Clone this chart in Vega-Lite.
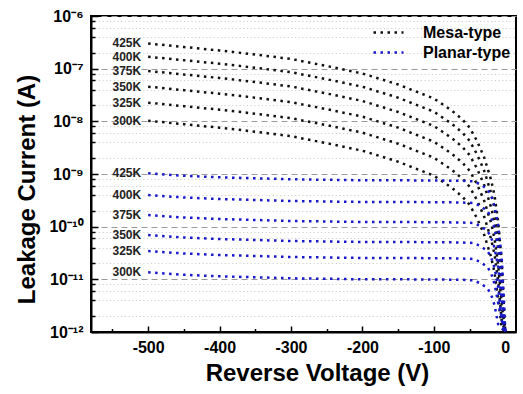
{
  "$schema": "https://vega.github.io/schema/vega-lite/v6.json",
  "width": 425,
  "height": 316,
  "autosize": "none",
  "padding": {"left": 91, "top": 16, "right": 7, "bottom": 62},
  "background": "white",
  "config": {
    "font": "Liberation Sans",
    "view": {"stroke": "black", "strokeWidth": 2},
    "axis": {"domainColor": "black", "domainWidth": 2, "tickColor": "black", "tickWidth": 1.5, "labelColor": "black", "titleColor": "black", "labelFont": "Liberation Sans", "titleFont": "Liberation Sans"}
  },
  "data": {"values": [
    {"type": "Mesa-type", "T": "425K", "V": -500, "I": 3.006e-7},
    {"type": "Mesa-type", "T": "425K", "V": -450, "I": 2.579e-7},
    {"type": "Mesa-type", "T": "425K", "V": -400, "I": 2.214e-7},
    {"type": "Mesa-type", "T": "425K", "V": -350, "I": 1.859e-7},
    {"type": "Mesa-type", "T": "425K", "V": -300, "I": 1.527e-7},
    {"type": "Mesa-type", "T": "425K", "V": -250, "I": 1.124e-7},
    {"type": "Mesa-type", "T": "425K", "V": -200, "I": 8.096e-8},
    {"type": "Mesa-type", "T": "425K", "V": -150, "I": 5.007e-8},
    {"type": "Mesa-type", "T": "425K", "V": -100, "I": 2.716e-8},
    {"type": "Mesa-type", "T": "425K", "V": -75, "I": 1.606e-8},
    {"type": "Mesa-type", "T": "425K", "V": -60, "I": 1.084e-8},
    {"type": "Mesa-type", "T": "425K", "V": -50, "I": 7.641e-9},
    {"type": "Mesa-type", "T": "425K", "V": -40, "I": 4.328e-9},
    {"type": "Mesa-type", "T": "425K", "V": -30, "I": 2.150e-9},
    {"type": "Mesa-type", "T": "425K", "V": -20, "I": 7.867e-10},
    {"type": "Mesa-type", "T": "425K", "V": -15, "I": 3.909e-10},
    {"type": "Mesa-type", "T": "425K", "V": -10, "I": 1.254e-10},
    {"type": "Mesa-type", "T": "425K", "V": -5, "I": 2.183e-11},
    {"type": "Mesa-type", "T": "425K", "V": -2, "I": 3.188e-12},
    {"type": "Mesa-type", "T": "425K", "V": 0, "I": 1e-12},
    {"type": "Mesa-type", "T": "400K", "V": -500, "I": 1.687e-7},
    {"type": "Mesa-type", "T": "400K", "V": -450, "I": 1.447e-7},
    {"type": "Mesa-type", "T": "400K", "V": -400, "I": 1.242e-7},
    {"type": "Mesa-type", "T": "400K", "V": -350, "I": 1.043e-7},
    {"type": "Mesa-type", "T": "400K", "V": -300, "I": 8.564e-8},
    {"type": "Mesa-type", "T": "400K", "V": -250, "I": 6.307e-8},
    {"type": "Mesa-type", "T": "400K", "V": -200, "I": 4.544e-8},
    {"type": "Mesa-type", "T": "400K", "V": -150, "I": 2.810e-8},
    {"type": "Mesa-type", "T": "400K", "V": -100, "I": 1.523e-8},
    {"type": "Mesa-type", "T": "400K", "V": -75, "I": 9.014e-9},
    {"type": "Mesa-type", "T": "400K", "V": -60, "I": 6.081e-9},
    {"type": "Mesa-type", "T": "400K", "V": -50, "I": 4.287e-9},
    {"type": "Mesa-type", "T": "400K", "V": -40, "I": 2.428e-9},
    {"type": "Mesa-type", "T": "400K", "V": -30, "I": 1.207e-9},
    {"type": "Mesa-type", "T": "400K", "V": -20, "I": 4.415e-10},
    {"type": "Mesa-type", "T": "400K", "V": -15, "I": 2.193e-10},
    {"type": "Mesa-type", "T": "400K", "V": -10, "I": 7.039e-11},
    {"type": "Mesa-type", "T": "400K", "V": -5, "I": 1.225e-11},
    {"type": "Mesa-type", "T": "400K", "V": -2, "I": 1.789e-12},
    {"type": "Mesa-type", "T": "400K", "V": 0, "I": 1e-12},
    {"type": "Mesa-type", "T": "375K", "V": -500, "I": 9.036e-8},
    {"type": "Mesa-type", "T": "375K", "V": -450, "I": 7.752e-8},
    {"type": "Mesa-type", "T": "375K", "V": -400, "I": 6.655e-8},
    {"type": "Mesa-type", "T": "375K", "V": -350, "I": 5.587e-8},
    {"type": "Mesa-type", "T": "375K", "V": -300, "I": 4.589e-8},
    {"type": "Mesa-type", "T": "375K", "V": -250, "I": 3.379e-8},
    {"type": "Mesa-type", "T": "375K", "V": -200, "I": 2.434e-8},
    {"type": "Mesa-type", "T": "375K", "V": -150, "I": 1.505e-8},
    {"type": "Mesa-type", "T": "375K", "V": -100, "I": 8.161e-9},
    {"type": "Mesa-type", "T": "375K", "V": -75, "I": 4.830e-9},
    {"type": "Mesa-type", "T": "375K", "V": -60, "I": 3.258e-9},
    {"type": "Mesa-type", "T": "375K", "V": -50, "I": 2.297e-9},
    {"type": "Mesa-type", "T": "375K", "V": -40, "I": 1.301e-9},
    {"type": "Mesa-type", "T": "375K", "V": -30, "I": 6.466e-10},
    {"type": "Mesa-type", "T": "375K", "V": -20, "I": 2.365e-10},
    {"type": "Mesa-type", "T": "375K", "V": -15, "I": 1.175e-10},
    {"type": "Mesa-type", "T": "375K", "V": -10, "I": 3.772e-11},
    {"type": "Mesa-type", "T": "375K", "V": -5, "I": 6.561e-12},
    {"type": "Mesa-type", "T": "375K", "V": -2, "I": 1.2e-12},
    {"type": "Mesa-type", "T": "375K", "V": 0, "I": 1e-12},
    {"type": "Mesa-type", "T": "350K", "V": -500, "I": 4.550e-8},
    {"type": "Mesa-type", "T": "350K", "V": -450, "I": 3.904e-8},
    {"type": "Mesa-type", "T": "350K", "V": -400, "I": 3.351e-8},
    {"type": "Mesa-type", "T": "350K", "V": -350, "I": 2.814e-8},
    {"type": "Mesa-type", "T": "350K", "V": -300, "I": 2.311e-8},
    {"type": "Mesa-type", "T": "350K", "V": -250, "I": 1.701e-8},
    {"type": "Mesa-type", "T": "350K", "V": -200, "I": 1.226e-8},
    {"type": "Mesa-type", "T": "350K", "V": -150, "I": 7.578e-9},
    {"type": "Mesa-type", "T": "350K", "V": -100, "I": 4.109e-9},
    {"type": "Mesa-type", "T": "350K", "V": -75, "I": 2.432e-9},
    {"type": "Mesa-type", "T": "350K", "V": -60, "I": 1.641e-9},
    {"type": "Mesa-type", "T": "350K", "V": -50, "I": 1.157e-9},
    {"type": "Mesa-type", "T": "350K", "V": -40, "I": 6.551e-10},
    {"type": "Mesa-type", "T": "350K", "V": -30, "I": 3.254e-10},
    {"type": "Mesa-type", "T": "350K", "V": -20, "I": 1.191e-10},
    {"type": "Mesa-type", "T": "350K", "V": -15, "I": 5.917e-11},
    {"type": "Mesa-type", "T": "350K", "V": -10, "I": 1.899e-11},
    {"type": "Mesa-type", "T": "350K", "V": -5, "I": 3.304e-12},
    {"type": "Mesa-type", "T": "350K", "V": 0, "I": 1e-12},
    {"type": "Mesa-type", "T": "325K", "V": -500, "I": 2.259e-8},
    {"type": "Mesa-type", "T": "325K", "V": -450, "I": 1.939e-8},
    {"type": "Mesa-type", "T": "325K", "V": -400, "I": 1.664e-8},
    {"type": "Mesa-type", "T": "325K", "V": -350, "I": 1.397e-8},
    {"type": "Mesa-type", "T": "325K", "V": -300, "I": 1.147e-8},
    {"type": "Mesa-type", "T": "325K", "V": -250, "I": 8.449e-9},
    {"type": "Mesa-type", "T": "325K", "V": -200, "I": 6.087e-9},
    {"type": "Mesa-type", "T": "325K", "V": -150, "I": 3.763e-9},
    {"type": "Mesa-type", "T": "325K", "V": -100, "I": 2.040e-9},
    {"type": "Mesa-type", "T": "325K", "V": -75, "I": 1.207e-9},
    {"type": "Mesa-type", "T": "325K", "V": -60, "I": 8.147e-10},
    {"type": "Mesa-type", "T": "325K", "V": -50, "I": 5.744e-10},
    {"type": "Mesa-type", "T": "325K", "V": -40, "I": 3.252e-10},
    {"type": "Mesa-type", "T": "325K", "V": -30, "I": 1.617e-10},
    {"type": "Mesa-type", "T": "325K", "V": -20, "I": 5.914e-11},
    {"type": "Mesa-type", "T": "325K", "V": -15, "I": 2.938e-11},
    {"type": "Mesa-type", "T": "325K", "V": -10, "I": 9.430e-12},
    {"type": "Mesa-type", "T": "325K", "V": -5, "I": 1.641e-12},
    {"type": "Mesa-type", "T": "325K", "V": 0, "I": 1e-12},
    {"type": "Mesa-type", "T": "300K", "V": -500, "I": 1.028e-8},
    {"type": "Mesa-type", "T": "300K", "V": -450, "I": 8.822e-9},
    {"type": "Mesa-type", "T": "300K", "V": -400, "I": 7.569e-9},
    {"type": "Mesa-type", "T": "300K", "V": -350, "I": 6.357e-9},
    {"type": "Mesa-type", "T": "300K", "V": -300, "I": 5.221e-9},
    {"type": "Mesa-type", "T": "300K", "V": -250, "I": 3.844e-9},
    {"type": "Mesa-type", "T": "300K", "V": -200, "I": 2.769e-9},
    {"type": "Mesa-type", "T": "300K", "V": -150, "I": 1.712e-9},
    {"type": "Mesa-type", "T": "300K", "V": -100, "I": 9.286e-10},
    {"type": "Mesa-type", "T": "300K", "V": -75, "I": 5.494e-10},
    {"type": "Mesa-type", "T": "300K", "V": -60, "I": 3.707e-10},
    {"type": "Mesa-type", "T": "300K", "V": -50, "I": 2.614e-10},
    {"type": "Mesa-type", "T": "300K", "V": -40, "I": 1.480e-10},
    {"type": "Mesa-type", "T": "300K", "V": -30, "I": 7.356e-11},
    {"type": "Mesa-type", "T": "300K", "V": -20, "I": 2.691e-11},
    {"type": "Mesa-type", "T": "300K", "V": -15, "I": 1.337e-11},
    {"type": "Mesa-type", "T": "300K", "V": -10, "I": 4.290e-12},
    {"type": "Mesa-type", "T": "300K", "V": -5, "I": 1.2e-12},
    {"type": "Mesa-type", "T": "300K", "V": 0, "I": 1e-12},
    {"type": "Planar-type", "T": "425K", "V": -500, "I": 1.032e-9},
    {"type": "Planar-type", "T": "425K", "V": -450, "I": 9.250e-10},
    {"type": "Planar-type", "T": "425K", "V": -400, "I": 8.665e-10},
    {"type": "Planar-type", "T": "425K", "V": -350, "I": 8.295e-10},
    {"type": "Planar-type", "T": "425K", "V": -300, "I": 7.940e-10},
    {"type": "Planar-type", "T": "425K", "V": -250, "I": 7.768e-10},
    {"type": "Planar-type", "T": "425K", "V": -200, "I": 7.600e-10},
    {"type": "Planar-type", "T": "425K", "V": -150, "I": 7.590e-10},
    {"type": "Planar-type", "T": "425K", "V": -100, "I": 7.534e-10},
    {"type": "Planar-type", "T": "425K", "V": -60, "I": 7.436e-10},
    {"type": "Planar-type", "T": "425K", "V": -45, "I": 7.275e-10},
    {"type": "Planar-type", "T": "425K", "V": -35, "I": 6.381e-10},
    {"type": "Planar-type", "T": "425K", "V": -25, "I": 5.127e-10},
    {"type": "Planar-type", "T": "425K", "V": -20, "I": 3.944e-10},
    {"type": "Planar-type", "T": "425K", "V": -15, "I": 2.439e-10},
    {"type": "Planar-type", "T": "425K", "V": -10, "I": 1.063e-10},
    {"type": "Planar-type", "T": "425K", "V": -5, "I": 2.511e-11},
    {"type": "Planar-type", "T": "425K", "V": -2, "I": 4.368e-12},
    {"type": "Planar-type", "T": "425K", "V": 0, "I": 1e-12},
    {"type": "Planar-type", "T": "400K", "V": -500, "I": 3.995e-10},
    {"type": "Planar-type", "T": "400K", "V": -450, "I": 3.581e-10},
    {"type": "Planar-type", "T": "400K", "V": -400, "I": 3.354e-10},
    {"type": "Planar-type", "T": "400K", "V": -350, "I": 3.211e-10},
    {"type": "Planar-type", "T": "400K", "V": -300, "I": 3.074e-10},
    {"type": "Planar-type", "T": "400K", "V": -250, "I": 3.007e-10},
    {"type": "Planar-type", "T": "400K", "V": -200, "I": 2.942e-10},
    {"type": "Planar-type", "T": "400K", "V": -150, "I": 2.940e-10},
    {"type": "Planar-type", "T": "400K", "V": -100, "I": 2.916e-10},
    {"type": "Planar-type", "T": "400K", "V": -60, "I": 2.878e-10},
    {"type": "Planar-type", "T": "400K", "V": -45, "I": 2.816e-10},
    {"type": "Planar-type", "T": "400K", "V": -35, "I": 2.470e-10},
    {"type": "Planar-type", "T": "400K", "V": -25, "I": 1.985e-10},
    {"type": "Planar-type", "T": "400K", "V": -20, "I": 1.527e-10},
    {"type": "Planar-type", "T": "400K", "V": -15, "I": 9.440e-11},
    {"type": "Planar-type", "T": "400K", "V": -10, "I": 4.115e-11},
    {"type": "Planar-type", "T": "400K", "V": -5, "I": 9.720e-12},
    {"type": "Planar-type", "T": "400K", "V": -2, "I": 1.691e-12},
    {"type": "Planar-type", "T": "400K", "V": 0, "I": 1e-12},
    {"type": "Planar-type", "T": "375K", "V": -500, "I": 1.666e-10},
    {"type": "Planar-type", "T": "375K", "V": -450, "I": 1.493e-10},
    {"type": "Planar-type", "T": "375K", "V": -400, "I": 1.399e-10},
    {"type": "Planar-type", "T": "375K", "V": -350, "I": 1.339e-10},
    {"type": "Planar-type", "T": "375K", "V": -300, "I": 1.282e-10},
    {"type": "Planar-type", "T": "375K", "V": -250, "I": 1.254e-10},
    {"type": "Planar-type", "T": "375K", "V": -200, "I": 1.227e-10},
    {"type": "Planar-type", "T": "375K", "V": -150, "I": 1.226e-10},
    {"type": "Planar-type", "T": "375K", "V": -100, "I": 1.216e-10},
    {"type": "Planar-type", "T": "375K", "V": -60, "I": 1.200e-10},
    {"type": "Planar-type", "T": "375K", "V": -45, "I": 1.174e-10},
    {"type": "Planar-type", "T": "375K", "V": -35, "I": 1.030e-10},
    {"type": "Planar-type", "T": "375K", "V": -25, "I": 8.277e-11},
    {"type": "Planar-type", "T": "375K", "V": -20, "I": 6.367e-11},
    {"type": "Planar-type", "T": "375K", "V": -15, "I": 3.937e-11},
    {"type": "Planar-type", "T": "375K", "V": -10, "I": 1.716e-11},
    {"type": "Planar-type", "T": "375K", "V": -5, "I": 4.053e-12},
    {"type": "Planar-type", "T": "375K", "V": 0, "I": 1e-12},
    {"type": "Planar-type", "T": "350K", "V": -500, "I": 6.950e-11},
    {"type": "Planar-type", "T": "350K", "V": -450, "I": 6.229e-11},
    {"type": "Planar-type", "T": "350K", "V": -400, "I": 5.835e-11},
    {"type": "Planar-type", "T": "350K", "V": -350, "I": 5.586e-11},
    {"type": "Planar-type", "T": "350K", "V": -300, "I": 5.347e-11},
    {"type": "Planar-type", "T": "350K", "V": -250, "I": 5.231e-11},
    {"type": "Planar-type", "T": "350K", "V": -200, "I": 5.118e-11},
    {"type": "Planar-type", "T": "350K", "V": -150, "I": 5.110e-11},
    {"type": "Planar-type", "T": "350K", "V": -100, "I": 5.074e-11},
    {"type": "Planar-type", "T": "350K", "V": -60, "I": 5.007e-11},
    {"type": "Planar-type", "T": "350K", "V": -45, "I": 4.899e-11},
    {"type": "Planar-type", "T": "350K", "V": -35, "I": 4.297e-11},
    {"type": "Planar-type", "T": "350K", "V": -25, "I": 3.453e-11},
    {"type": "Planar-type", "T": "350K", "V": -20, "I": 2.656e-11},
    {"type": "Planar-type", "T": "350K", "V": -15, "I": 1.642e-11},
    {"type": "Planar-type", "T": "350K", "V": -10, "I": 7.159e-12},
    {"type": "Planar-type", "T": "350K", "V": -5, "I": 1.691e-12},
    {"type": "Planar-type", "T": "350K", "V": 0, "I": 1e-12},
    {"type": "Planar-type", "T": "325K", "V": -500, "I": 3.453e-11},
    {"type": "Planar-type", "T": "325K", "V": -450, "I": 3.095e-11},
    {"type": "Planar-type", "T": "325K", "V": -400, "I": 2.899e-11},
    {"type": "Planar-type", "T": "325K", "V": -350, "I": 2.776e-11},
    {"type": "Planar-type", "T": "325K", "V": -300, "I": 2.657e-11},
    {"type": "Planar-type", "T": "325K", "V": -250, "I": 2.599e-11},
    {"type": "Planar-type", "T": "325K", "V": -200, "I": 2.543e-11},
    {"type": "Planar-type", "T": "325K", "V": -150, "I": 2.540e-11},
    {"type": "Planar-type", "T": "325K", "V": -100, "I": 2.521e-11},
    {"type": "Planar-type", "T": "325K", "V": -60, "I": 2.488e-11},
    {"type": "Planar-type", "T": "325K", "V": -45, "I": 2.434e-11},
    {"type": "Planar-type", "T": "325K", "V": -35, "I": 2.135e-11},
    {"type": "Planar-type", "T": "325K", "V": -25, "I": 1.715e-11},
    {"type": "Planar-type", "T": "325K", "V": -20, "I": 1.320e-11},
    {"type": "Planar-type", "T": "325K", "V": -15, "I": 8.160e-12},
    {"type": "Planar-type", "T": "325K", "V": -10, "I": 3.557e-12},
    {"type": "Planar-type", "T": "325K", "V": 0, "I": 1e-12},
    {"type": "Planar-type", "T": "300K", "V": -500, "I": 1.361e-11},
    {"type": "Planar-type", "T": "300K", "V": -450, "I": 1.220e-11},
    {"type": "Planar-type", "T": "300K", "V": -400, "I": 1.143e-11},
    {"type": "Planar-type", "T": "300K", "V": -350, "I": 1.094e-11},
    {"type": "Planar-type", "T": "300K", "V": -300, "I": 1.047e-11},
    {"type": "Planar-type", "T": "300K", "V": -250, "I": 1.024e-11},
    {"type": "Planar-type", "T": "300K", "V": -200, "I": 1.002e-11},
    {"type": "Planar-type", "T": "300K", "V": -150, "I": 1.001e-11},
    {"type": "Planar-type", "T": "300K", "V": -100, "I": 9.935e-12},
    {"type": "Planar-type", "T": "300K", "V": -60, "I": 9.806e-12},
    {"type": "Planar-type", "T": "300K", "V": -45, "I": 9.594e-12},
    {"type": "Planar-type", "T": "300K", "V": -35, "I": 8.415e-12},
    {"type": "Planar-type", "T": "300K", "V": -25, "I": 6.761e-12},
    {"type": "Planar-type", "T": "300K", "V": -20, "I": 5.202e-12},
    {"type": "Planar-type", "T": "300K", "V": -15, "I": 3.216e-12},
    {"type": "Planar-type", "T": "300K", "V": -10, "I": 1.402e-12},
    {"type": "Planar-type", "T": "300K", "V": 0, "I": 1e-12}
  ]},
  "encoding": {
    "x": {
      "field": "V", "type": "quantitative", "title": "Reverse Voltage (V)",
      "scale": {"domain": [-580, 15], "nice": false, "zero": false},
      "axis": {
        "values": [-550, -500, -450, -400, -350, -300, -250, -200, -150, -100, -50, 0],
        "labelExpr": "abs(datum.value) % 100 < 1 ? '' + datum.value : ''",
        "grid": false,
        "tickSize": {"condition": {"test": "abs(datum.value) % 100 < 1", "value": -6}, "value": -3.5},
        "labelPadding": 13,
        "labelFontSize": 16, "labelFontWeight": "bold",
        "labelFlush": false, "labelOverlap": false,
        "titleFontSize": 24, "titleFontWeight": "bold",
        "titleX": 226, "titleY": 48, "titleBaseline": "alphabetic", "titleAlign": "center"
      }
    },
    "y": {
      "field": "I", "type": "quantitative", "title": "Leakage Current (A)",
      "scale": {"type": "log", "domain": [1e-12, 1e-6], "nice": false},
      "axis": {
        "values": [1e-12, 2e-12, 4e-12, 6e-12, 8e-12, 1e-11, 2e-11, 4e-11, 6e-11, 8e-11, 1e-10, 2e-10, 4e-10, 6e-10, 8e-10, 1e-9, 2e-9, 4e-9, 6e-9, 8e-9, 1e-8, 2e-8, 4e-8, 6e-8, 8e-8, 1e-7, 2e-7, 4e-7, 6e-7, 8e-7, 1e-6],
        "labelExpr": "abs(log(datum.value)/LN10 - round(log(datum.value)/LN10)) > 0.01 ? '' : '10' + (round(log(datum.value)/LN10) == -6 ? '⁻⁶' : round(log(datum.value)/LN10) == -7 ? '⁻⁷' : round(log(datum.value)/LN10) == -8 ? '⁻⁸' : round(log(datum.value)/LN10) == -9 ? '⁻⁹' : round(log(datum.value)/LN10) == -10 ? '⁻¹⁰' : round(log(datum.value)/LN10) == -11 ? '⁻¹¹' : '⁻¹²')",
        "grid": true,
        "gridColor": {"condition": {"test": "abs(log(datum.value)/LN10 - round(log(datum.value)/LN10)) < 0.01", "value": "#9a9a9a"}, "value": "#cfcfcf"},
        "gridDash": {"condition": {"test": "abs(log(datum.value)/LN10 - round(log(datum.value)/LN10)) < 0.01", "value": [6, 4]}, "value": [1.2, 2.5]},
        "gridWidth": 1.2,
        "tickSize": {"condition": {"test": "abs(log(datum.value)/LN10 - round(log(datum.value)/LN10)) < 0.01", "value": -7}, "value": -4},
        "labelPadding": 15,
        "labelFontSize": 16, "labelFontWeight": "bold",
        "labelFlush": false, "labelOverlap": false, "labelBaseline": "middle",
        "titleFontSize": 24, "titleFontWeight": "bold",
        "titleX": -57, "titleY": 173, "titleBaseline": "alphabetic", "titleAlign": "center", "titleAngle": -90
      }
    }
  },
  "layer": [
    {
      "mark": {"type": "line", "strokeDash": [2.5, 4.5], "strokeWidth": 2.5, "clip": true},
      "encoding": {
        "color": {
          "field": "type", "type": "nominal",
          "scale": {"domain": ["Mesa-type", "Planar-type"], "range": ["#111111", "#1818cc"]},
          "legend": {
            "orient": "none", "legendX": 286, "legendY": 5, "title": null,
            "symbolType": "M-1.5,0L1.5,0", "symbolSize": 400, "symbolStrokeWidth": 2.5, "symbolDash": [2.5, 4.5],
            "labelFontSize": 16, "labelFontWeight": "bold", "labelColor": "black", "labelFont": "Liberation Sans",
            "labelOffset": 23, "rowPadding": 0, "padding": 0
          }
        },
        "detail": {"field": "T"}
      }
    },
    {
      "transform": [{"filter": "datum.V == -500"}],
      "mark": {"type": "text", "align": "right", "baseline": "middle", "dx": -7, "fontSize": 12, "fontWeight": "bold", "color": "#222222", "font": "Liberation Sans"},
      "encoding": {
        "text": {"field": "T"}
      }
    }
  ]
}
